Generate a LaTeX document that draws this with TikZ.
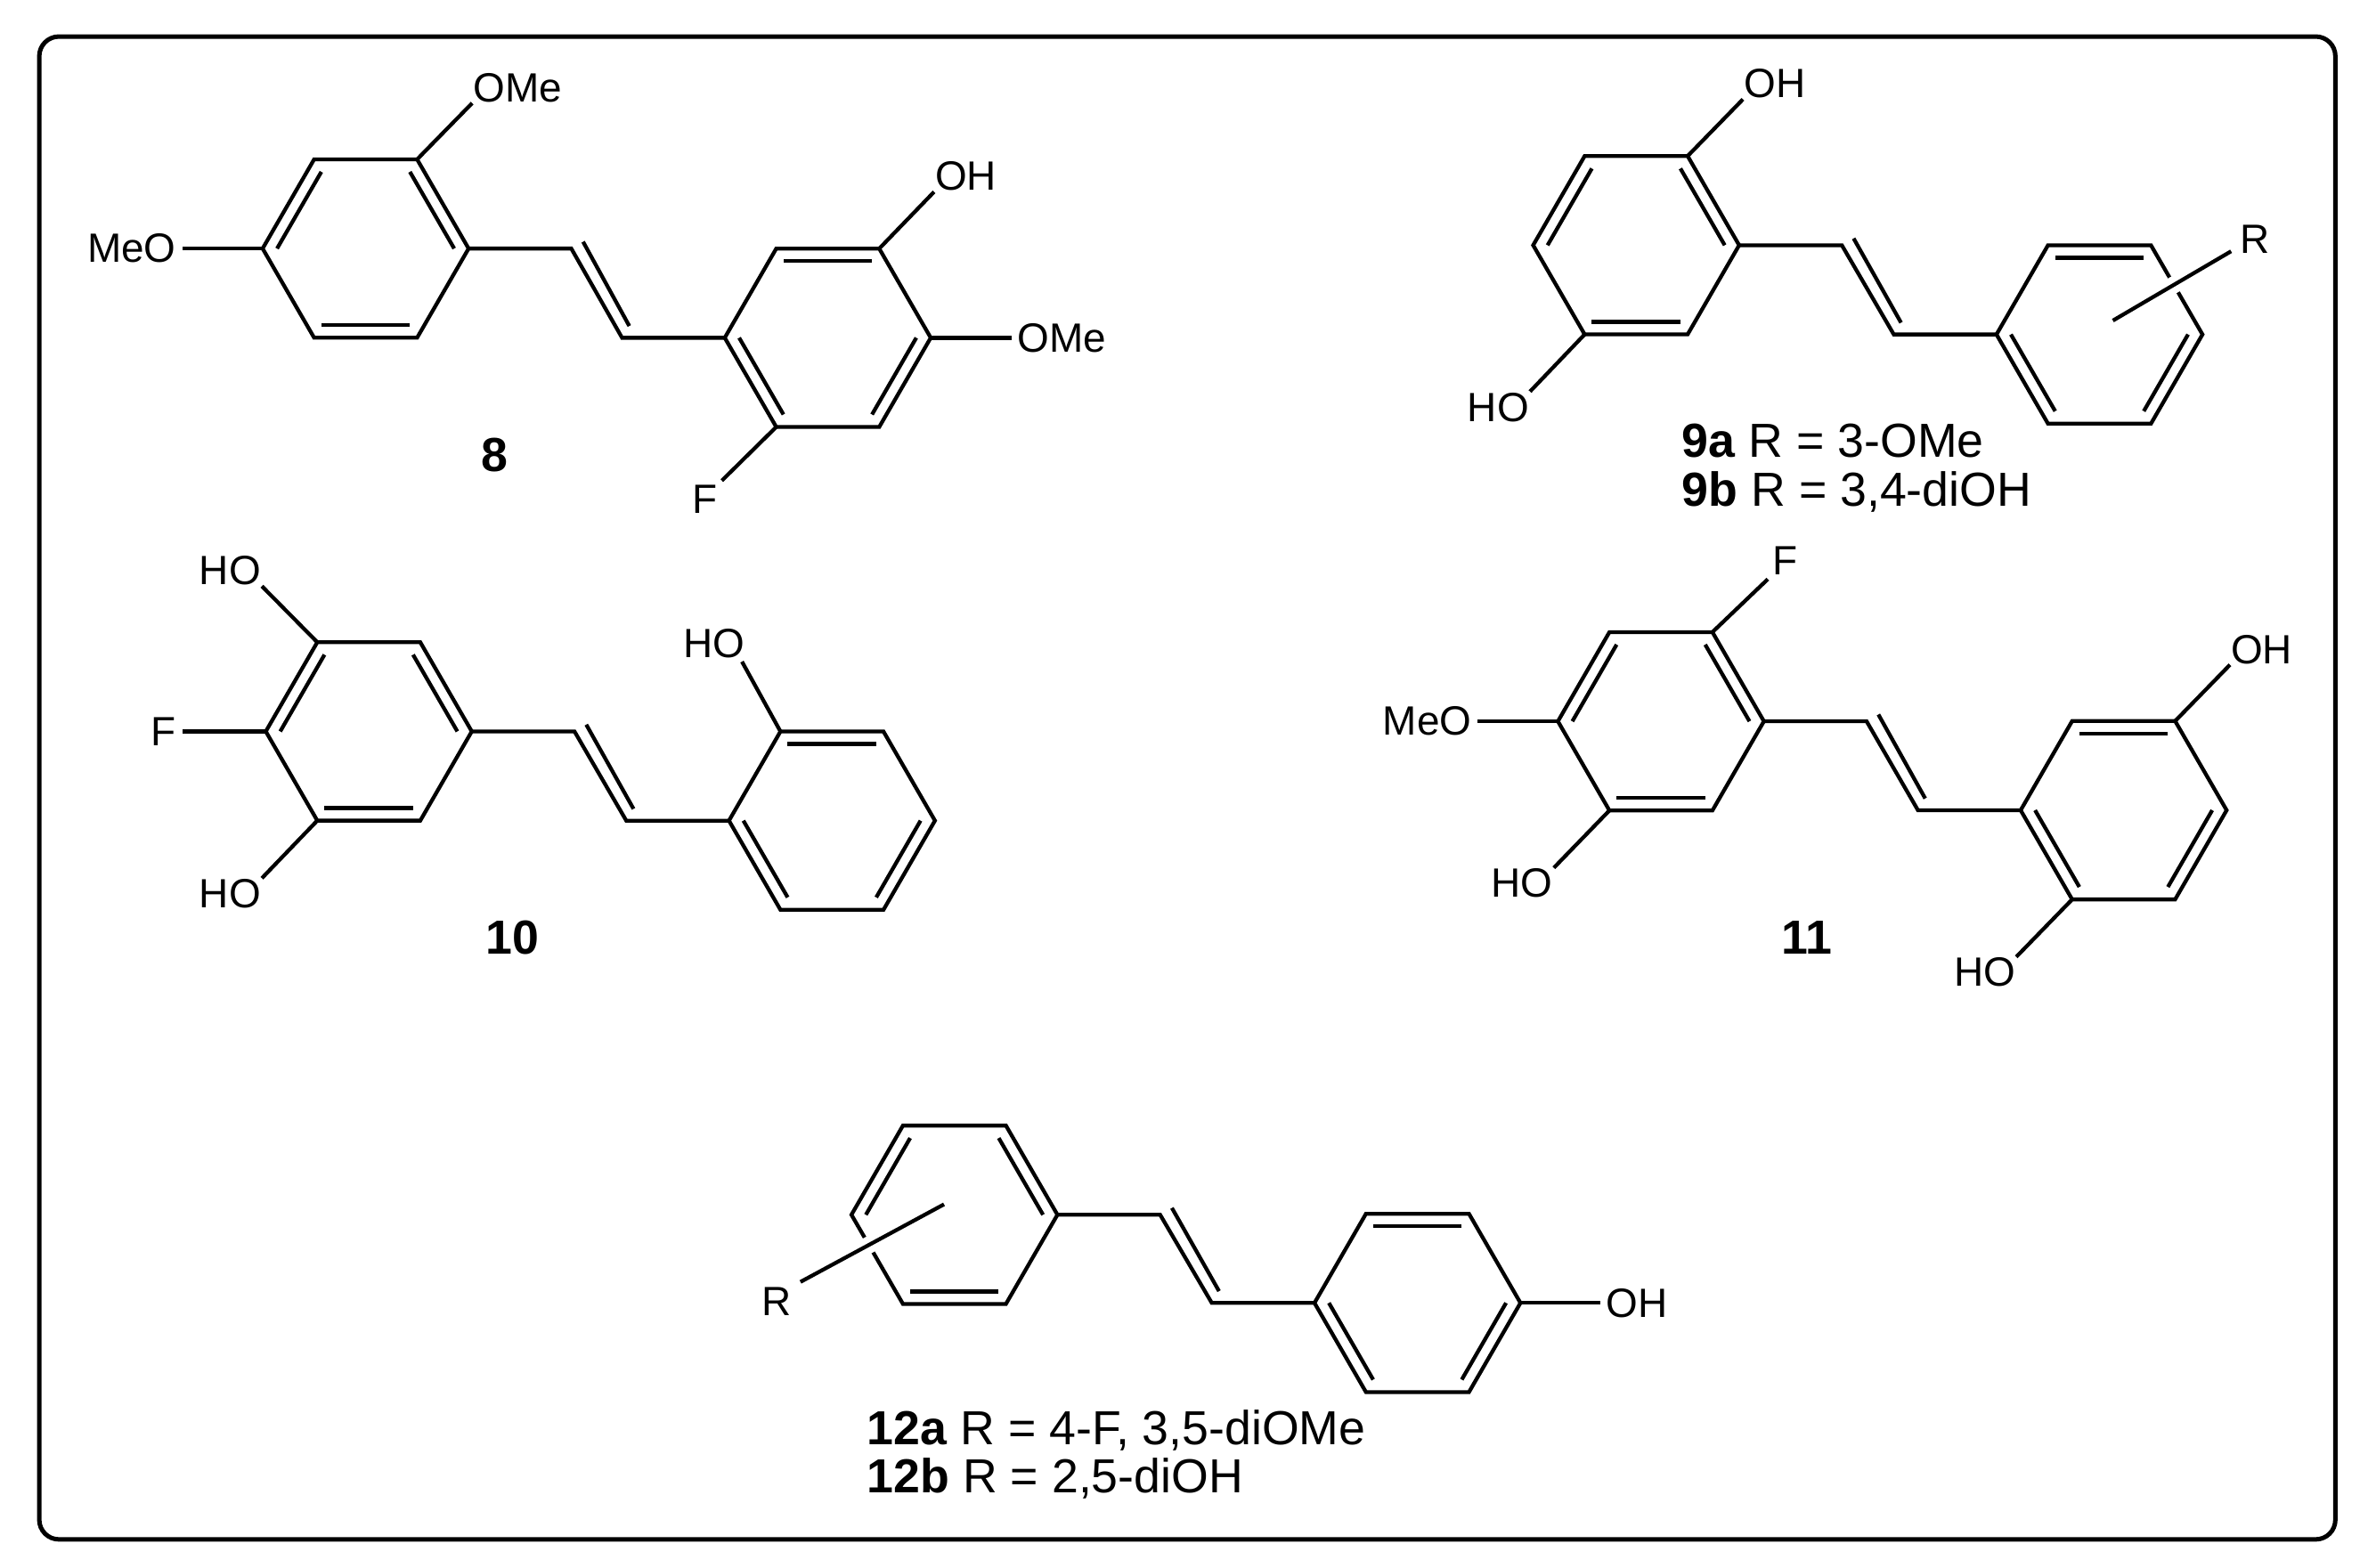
\documentclass[tikz,border=0pt]{standalone}
\usepackage{fontspec}
\setmainfont{Liberation Sans}
\usetikzlibrary{calc}

\newcommand{\benzring}[4]{%
    \coordinate (#1c) at (#2,#3);
    \foreach \i in {1,...,6} {
        \coordinate (#1\i) at ($(#1c)+(60-\i*60:68.2)$);
    }
    \draw[bond] (#11) -- (#12) -- (#13) -- (#14) -- (#15) -- (#16) -- cycle;
    % Inner lines of the double bonds
    \foreach \a/\b in {#4} {
        \draw[bond] ($(#1c)!0.86!(#1\a)$) -- ($(#1c)!0.86!(#1\b)$);
    }
}
\newcommand{\vinylbridge}[3]{%
    \coordinate (#1a) at ($(#2)+(68,0)$);
    \coordinate (#1b) at ($(#3)+(-68,0)$);
    \draw[bond] (#2) -- (#1a) -- (#1b) -- (#3);
    \draw[bond] ($(#1a)+(7.8,-4.5)$) -- ($(#1b)+(4.8,-7.8)$);
}

\begin{document}
\begin{tikzpicture}[x=0.01cm, y=-0.01cm,
    bond/.style={line width=0.72pt},
    stub/.style={bond, shorten >=1pt},
    frame/.style={line width=0.84pt, rounded corners=0.13cm},
    crossbond/.style={bond, shorten >=1.8pt, preaction={draw=white, line width=3.2pt}},
    atom/.style={inner sep=0pt, font=\fontsize{7.7}{9}\selectfont},
    compound/.style={inner sep=0pt, font=\fontsize{9}{10}\selectfont\bfseries},
    legend/.style={inner sep=0pt, anchor=base west, font=\fontsize{9}{10}\selectfont}]
    \useasboundingbox (0,0) rectangle (1568,1038.4);
    \draw[frame] (26,24.2) rectangle (1546.4,1019.5);

    % Compound 8
    \benzring{ea}{242.1}{164.6}{1/2,3/4,5/6}
    \benzring{eb}{548.1}{223.7}{2/3,4/5,6/1}
    \vinylbridge{ev}{ea1}{eb4}
    \node[atom] (eOMea) at (342.7,58) {OMe};
    \node[atom] (eMeO) at (87.2,164.6) {MeO};
    \node[atom] (eOH) at (639.5,116.8) {OH};
    \node[atom] (eOMeb) at (703.2,223.7) {OMe};
    \node[atom] (eF) at (466.5,330.8) {F};
    \draw[bond] (ea2) -- (eOMea.south west);
    \draw[stub] (ea4) -- (eMeO.east);
    \draw[bond] (eb2) -- (eOH.south west);
    \draw[stub] (eb1) -- (eOMeb.west);
    \draw[stub] (eb5) -- (eF.north east);
    \node[compound] (lbl8) at (327.6,301.4) {8};

    % Compounds 9a and 9b
    \benzring{na}{1083.4}{162.4}{1/2,3/4,5/6}
    \benzring{nb}{1390.2}{221.5}{2/3,4/5,6/1}
    \vinylbridge{nv}{na1}{nb4}
    \node[atom] (nOH) at (1175.1,55.5) {OH};
    \node[atom] (nHO) at (992.1,269.6) {HO};
    \node[atom] (nR) at (1493.3,158.2) {R};
    \coordinate (nRend) at (1399.1,212.3);
    \draw[bond] (na2) -- (nOH.south west);
    \draw[bond] (na5) -- (nHO.north east);
    \draw[crossbond] (nRend) -- ($(nR.west)!0.5!(nR.south west)$);
    \node[legend] (lbl9a) at (1113.2,302.9) {\textbf{9a} R = 3-OMe};
    \node[legend] (lbl9b) at (1113.2,335.1) {\textbf{9b} R = 3,4-diOH};

    % Compound 10
    \benzring{ta}{244.2}{484.4}{1/2,3/4,5/6}
    \benzring{tb}{550.9}{543.5}{2/3,4/5,6/1}
    \vinylbridge{tv}{ta1}{tb4}
    \node[atom] (tHOa) at (152.4,377.9) {HO};
    \node[atom] (tF) at (108.4,484.4) {F};
    \node[atom] (tHOb) at (152.4,591.9) {HO};
    \node[atom] (tHOc) at (472.8,425.9) {HO};
    \draw[bond] (ta3) -- (tHOa.south east);
    \draw[stub] (ta4) -- (tF.east);
    \draw[bond] (ta5) -- (tHOb.north east);
    \draw[bond] (tb3) -- ($(tHOc.south east)+(-2.5,2)$);
    \node[compound] (lbl10) at (339.5,620.8) {10};

    % Compound 11
    \benzring{la}{1099.8}{477.7}{1/2,3/4,5/6}
    \benzring{lb}{1406.2}{536.6}{2/3,4/5,6/1}
    \vinylbridge{lv}{la1}{lb4}
    \node[atom] (lF) at (1182.1,371.1) {F};
    \node[atom] (lMeO) at (945,477.7) {MeO};
    \node[atom] (lHOa) at (1007.9,585) {HO};
    \node[atom] (lOH) at (1497.6,430) {OH};
    \node[atom] (lHOb) at (1314.1,644) {HO};
    \draw[stub] (la2) -- (lF.south west);
    \draw[stub] (la4) -- (lMeO.east);
    \draw[bond] (la5) -- (lHOa.north east);
    \draw[bond] (lb2) -- (lOH.south west);
    \draw[bond] (lb5) -- (lHOb.north east);
    \node[compound] (lbl11) at (1196.3,620.8) {11};

    % Compounds 12a and 12b
    \benzring{wa}{632}{804.5}{1/2,3/4,5/6}
    \benzring{wb}{938.6}{862.9}{2/3,4/5,6/1}
    \vinylbridge{wv}{wa1}{wb4}
    \node[atom] (wR) at (514,862) {R};
    \node[atom] (wOH) at (1084,862.9) {OH};
    \coordinate (wRend) at (625.1,797.6);
    \draw[crossbond] (wRend) -- (wR.north east);
    \draw[stub] (wb1) -- (wOH.west);
    \node[legend] (lbl12a) at (573.6,956.9) {\textbf{12a} R = 4-F, 3,5-diOMe};
    \node[legend] (lbl12b) at (573.6,988.7) {\textbf{12b} R = 2,5-diOH};
\end{tikzpicture}
\end{document}
